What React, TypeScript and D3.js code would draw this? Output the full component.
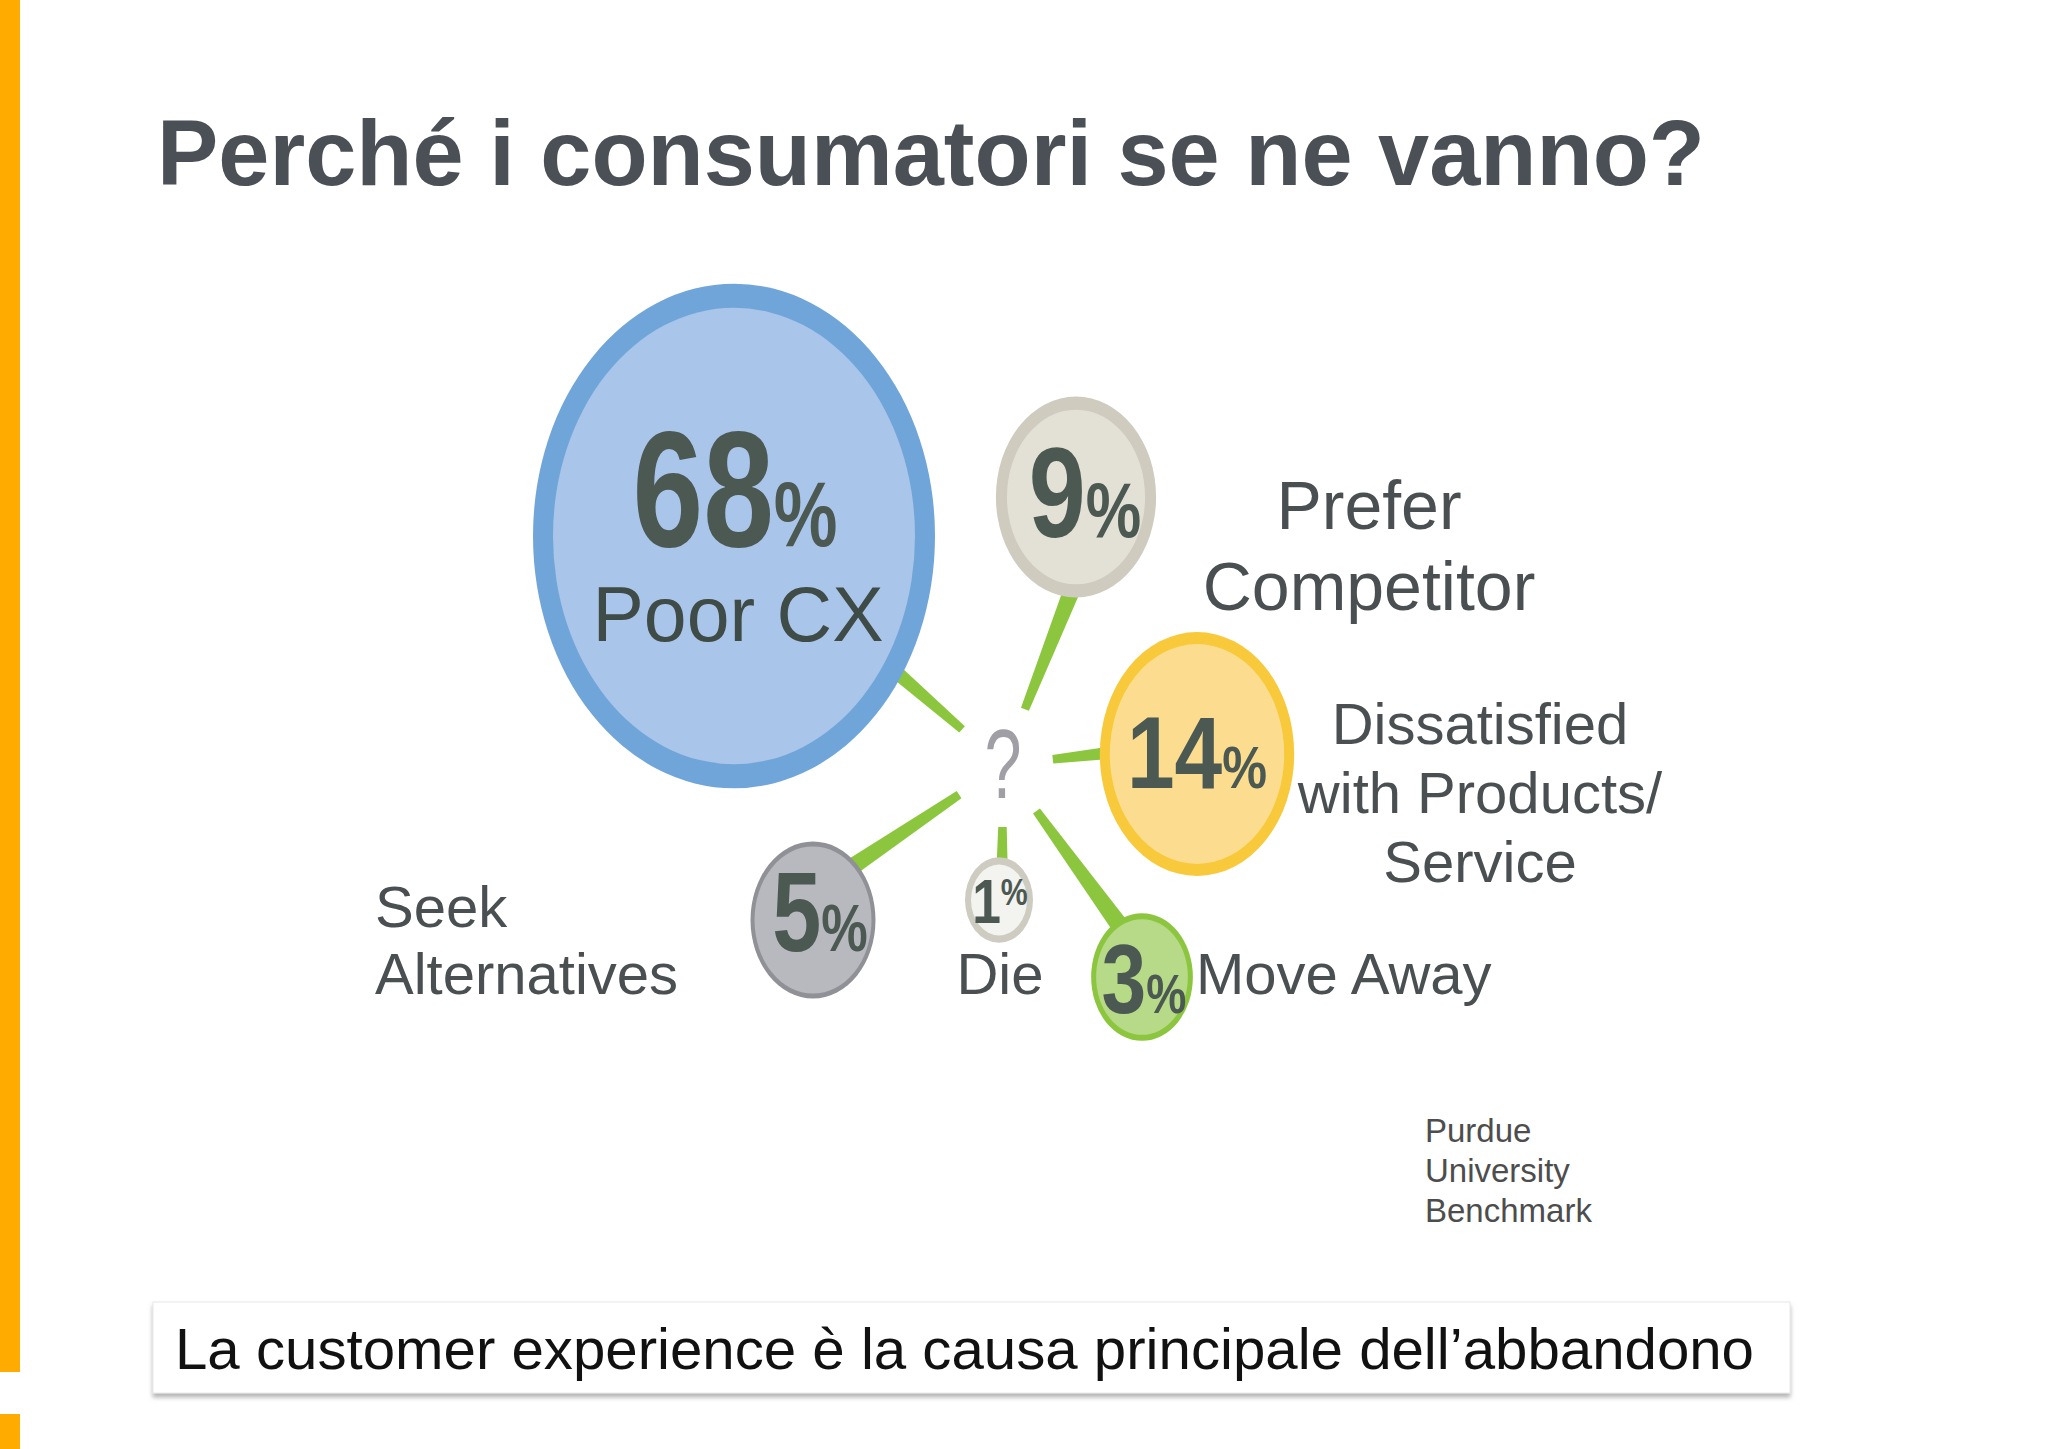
import * as d3 from "d3";

// ---- data ----
const reasons = ["Poor CX", "Prefer Competitor", "Dissatisfied with Products/Service", "Move Away", "Die", "Seek Alternatives"];
const shares = [68, 9, 14, 3, 1, 5];
const labelLines = [
  ["Poor CX"],
  ["Prefer", "Competitor"],
  ["Dissatisfied", "with Products/", "Service"],
  ["Move Away"],
  ["Die"],
  ["Seek", "Alternatives"],
];
const titleText = "Perché i consumatori se ne vanno?";
const footerText = "La customer experience è la causa principale dell’abbandono";
const sourceLines = ["Purdue", "University", "Benchmark"];

// ---- layout / style ----
const W = 2048;
const H = 1449;
const hub = { x: 1003, y: 765, rx: 50, ry: 62 };
const aspect = 1.255;

const bubbleLayout = [
  { cx: 734, cy: 536, spoke: 221, ring: 20, ringColor: "#70a5da", fill: "#a9c5e9", num: 165, pct: 93, sx: 0.77, dx: 1, dy: 10, pctDy: 0 },
  { cx: 1076, cy: 497, spoke: -68.5, ring: 11, ringColor: "#cfcbbf", fill: "#e3e0d6", num: 128, pct: 78, sx: 0.8, dx: 9, dy: 40, pctDy: 0 },
  { cx: 1197, cy: 754, spoke: -6.5, ring: 10, ringColor: "#f8c93a", fill: "#fcdd8f", num: 102, pct: 60, sx: 0.84, dx: 0, dy: 34, pctDy: 0 },
  { cx: 1142, cy: 977, spoke: 54, ring: 5, ringColor: "#8cc63f", fill: "#b6da87", num: 98, pct: 55, sx: 0.82, dx: 2, dy: 36, pctDy: 0 },
  { cx: 999, cy: 900, spoke: 90.5, ring: 6, ringColor: "#cecbc1", fill: "#f3f3f0", num: 63, pct: 37, sx: 0.82, dx: 1, dy: 23, pctDy: -18 },
  { cx: 813, cy: 920, spoke: 146, ring: 4, ringColor: "#8f9196", fill: "#b7b9be", num: 113, pct: 67, sx: 0.78, dx: 7, dy: 31, pctDy: 0 },
];

const labelLayout = [
  { x: 738, y: 641, size: 77, lh: 0, anchor: "middle", color: "#3f4b46" },
  { x: 1369, y: 529, size: 68, lh: 81, anchor: "middle", color: "#4a4f52" },
  { x: 1480, y: 744, size: 58, lh: 69, anchor: "middle", color: "#4a4f52" },
  { x: 1196, y: 994, size: 58, lh: 0, anchor: "start", color: "#4a4f52" },
  { x: 1000, y: 994, size: 58, lh: 0, anchor: "middle", color: "#4a4f52" },
  { x: 375, y: 927, size: 58, lh: 67, anchor: "start", color: "#4a4f52" },
];

const FONT = "'Liberation Sans', Arial, Helvetica, sans-serif";
const spokeColor = "#8cc63f";
const numColor = "#4c5952";

export default function App() {
  const rScale = d3.scaleSqrt().domain([1, 68]).range([34, 201]);

  const bubbles = shares.map((v, i) => {
    const L = bubbleLayout[i];
    const rx = rScale(v);
    const ry = rx * aspect;
    return { v, i, L, rx, ry, reason: reasons[i] };
  });

  const spokePath = (b: (typeof bubbles)[number]) => {
    const a = (b.L.spoke * Math.PI) / 180;
    const ux = Math.cos(a);
    const uy = Math.sin(a);
    // start on the hub ellipse
    const r0 = 1 / Math.sqrt((ux / hub.rx) ** 2 + (uy / hub.ry) ** 2);
    const r1 = Math.hypot(b.L.cx - hub.x, b.L.cy - hub.y);
    const w0 = 8.5;
    const w1 = w0 + 0.065 * (r1 - r0);
    const nx = -uy;
    const ny = ux;
    const p = (r: number, w: number, s: number): [number, number] => [
      hub.x + ux * r + (nx * w * s) / 2,
      hub.y + uy * r + (ny * w * s) / 2,
    ];
    const line = d3.line();
    return line([p(r0, w0, 1), p(r1, w1, 1), p(r1, w1, -1), p(r0, w0, -1)]) + "Z";
  };

  return (
    <svg
      width={W}
      height={H}
      viewBox={`0 0 ${W} ${H}`}
      style={{ position: "absolute", left: 0, top: 0, background: "#ffffff" }}
      fontFamily={FONT}
    >
      <defs>
        <filter id="boxShadow" x="-5%" y="-20%" width="110%" height="160%">
          <feDropShadow dx="0" dy="4" stdDeviation="2" floodColor="#7a7a7a" floodOpacity="0.55" />
        </filter>
      </defs>

      <rect x={0} y={0} width={W} height={H} fill="#ffffff" />

      {/* orange side bar */}
      <rect x={0} y={0} width={20} height={1372} fill="#ffab00" />
      <rect x={0} y={1414} width={20} height={35} fill="#ffab00" />

      {/* title */}
      <text x={157} y={185} fontSize={92} fontWeight="bold" fill="#4b5056" textLength={1548} lengthAdjust="spacingAndGlyphs">
        {titleText}
      </text>

      {/* spokes */}
      <g fill={spokeColor}>
        {bubbles.map((b) => (
          <path key={`s${b.i}`} d={spokePath(b)} />
        ))}
      </g>

      {/* question mark hub */}
      <g transform={`translate(${hub.x},798) scale(0.68,1)`}>
        <text textAnchor="middle" fontSize={98} fill="#a09fa6">?</text>
      </g>

      {/* bubbles */}
      {bubbles.map((b) => (
        <g key={`b${b.i}`}>
          <ellipse cx={b.L.cx} cy={b.L.cy} rx={b.rx} ry={b.ry} fill={b.L.ringColor} />
          <ellipse
            cx={b.L.cx}
            cy={b.L.cy}
            rx={b.rx - b.L.ring}
            ry={b.ry - b.L.ring * 1.2}
            fill={b.L.fill}
          />
          <g transform={`translate(${b.L.cx + b.L.dx},${b.L.cy + b.L.dy}) scale(${b.L.sx},1)`}>
            <text textAnchor="middle" fontWeight="bold" fill={numColor}>
              <tspan fontSize={b.L.num}>{b.v}</tspan>
              <tspan fontSize={b.L.pct} dy={b.L.pctDy}>%</tspan>
            </text>
          </g>
        </g>
      ))}

      {/* labels */}
      {labelLines.map((lines, i) => {
        const L = labelLayout[i];
        return (
          <text key={`l${i}`} x={L.x} y={L.y} fontSize={L.size} fill={L.color} textAnchor={L.anchor}>
            {lines.map((t, j) => (
              <tspan key={j} x={L.x} dy={j === 0 ? 0 : L.lh}>
                {t}
              </tspan>
            ))}
          </text>
        );
      })}

      {/* source */}
      <text x={1425} y={1142} fontSize={33} fill="#4d4d4d">
        {sourceLines.map((t, j) => (
          <tspan key={j} x={1425} dy={j === 0 ? 0 : 40}>
            {t}
          </tspan>
        ))}
      </text>

      {/* footer box */}
      <rect x={153} y={1302} width={1637} height={91} fill="#ffffff" stroke="#e8e8e8" strokeWidth={1} filter="url(#boxShadow)" />
      <text x={175} y={1369} fontSize={58} fill="#111111" textLength={1579} lengthAdjust="spacingAndGlyphs">
        {footerText}
      </text>
    </svg>
  );
}
